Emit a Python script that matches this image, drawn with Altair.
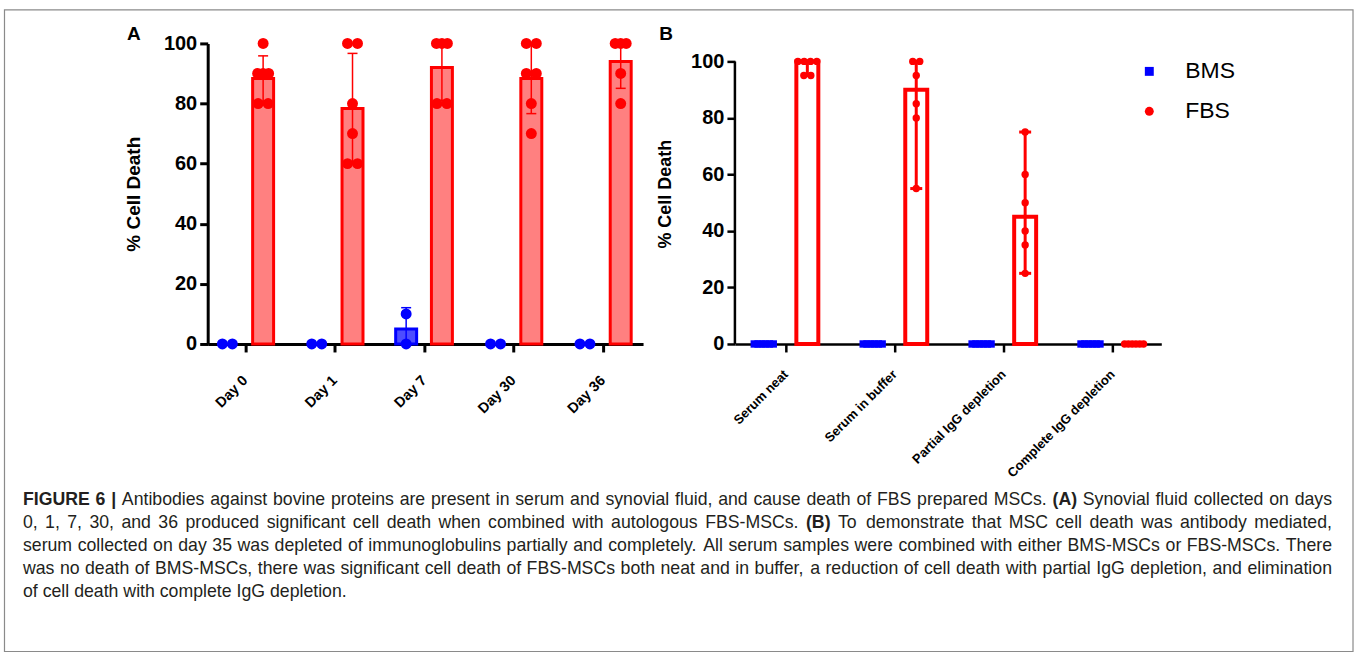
import json
import altair as alt
import pandas as pd

# ---------------- data ----------------
days = ["Day 0", "Day 1", "Day 7", "Day 30", "Day 36"]
conditions = ["Serum neat", "Serum in buffer", "Partial IgG depletion", "Complete IgG depletion"]
series_names = ["BMS", "FBS"]
series_colors = ["#0000ff", "#ff0000"]

# panel A: % cell death per replicate (synovial fluid by day)
a_bms = [[0, 0], [0, 0], [10, 0], [0, 0], [0, 0]]
a_fbs = [
    [100, 90, 90, 90, 80, 80],
    [100, 100, 80, 70, 60, 60],
    [100, 100, 100, 80, 80],
    [100, 100, 90, 90, 80, 70],
    [100, 100, 100, 90, 80],
]
# panel B: % cell death per replicate (serum treatments)
b_bms = [[0, 0, 0, 0, 0, 0], [0, 0, 0, 0, 0, 0], [0, 0, 0, 0, 0, 0], [0, 0, 0, 0, 0, 0]]
b_fbs = [
    [100, 100, 100, 100, 95, 95],
    [100, 100, 95, 85, 80, 55],
    [75, 60, 50, 40, 35, 25],
    [0, 0, 0, 0, 0, 0],
]
y_ticks = [0, 20, 40, 60, 80, 100]
y_title = "% Cell Death"

caption_lines = [
    "FIGURE 6 | Antibodies against bovine proteins are present in serum and synovial fluid, and cause death of FBS prepared MSCs. (A) Synovial fluid collected on days",
    "0, 1, 7, 30, and 36 produced significant cell death when combined with autologous FBS-MSCs. (B) To demonstrate that MSC cell death was antibody mediated,",
    "serum collected on day 35 was depleted of immunoglobulins partially and completely. All serum samples were combined with either BMS-MSCs or FBS-MSCs. There",
    "was no death of BMS-MSCs, there was significant cell death of FBS-MSCs both neat and in buffer, a reduction of cell death with partial IgG depletion, and elimination",
    "of cell death with complete IgG depletion.",
]
bold_words = {"FIGURE", "6", "|", "(A)", "(B)"}

# ---------------- layout / style ----------------
FONT = "Liberation Sans"
A_ORIGIN = (207, 42)
B_ORIGIN = (735, 42)
A_W, B_W, PH = 436, 427, 301
A_XDOM = [-0.42, 4.45]
B_XDOM = [-0.465, 3.45]
B_YMAX = 100 * PH / 283.0

color_scale = alt.Scale(domain=series_names, range=series_colors)


def long_table(groups, bms, fbs):
    rows = []
    for gi, name in enumerate(groups):
        for s, vals in zip(series_names, (bms[gi], fbs[gi])):
            for v in vals:
                rows.append({"g": gi, "group": name, "series": s, "value": v})
    return pd.DataFrame(rows)


def build_panel(df, groups, width, xdom, ymax, stat, errkind, fill_range, bar_sw,
                bar_px, err_sw, cap_px, pt_size, shapes, dot_max, dot_span,
                xlab_size, xlab_pad, ylab_size, ytitle_size, title_pad, axis_w, manual_domain):
    ppu = width / (xdom[1] - xdom[0])
    xs = alt.Scale(domain=xdom, nice=False, zero=False)
    ys = alt.Scale(domain=[0, ymax], nice=False, zero=False)
    label_expr = json.dumps(groups) + "[datum.value]"
    xaxis = alt.Axis(values=list(range(len(groups))), labelExpr=label_expr, labelAngle=-45,
                     labelAlign="right", labelBaseline="middle", labelFont=FONT,
                     labelFontWeight="bold", labelFontSize=xlab_size, labelColor="black",
                     labelPadding=xlab_pad, labelOverlap=False, labelFlush=False, labelBound=False,
                     tickSize=8, tickWidth=axis_w, tickColor="black",
                     domainColor="black", domainWidth=axis_w, grid=False, title=None)
    yaxis = alt.Axis(values=y_ticks, labelFont=FONT, labelFontWeight="bold",
                     labelFontSize=ylab_size, labelColor="black", labelPadding=3,
                     tickSize=8, tickWidth=axis_w, tickColor="black",
                     domain=not manual_domain, domainColor="black", domainWidth=axis_w,
                     grid=False, title=y_title, titleFont=FONT, titleFontWeight="bold",
                     titleFontSize=ytitle_size, titleColor="black", titlePadding=title_pad,
                     labelFlush=False)
    pos_expr = "datum.g + (datum.series == 'BMS' ? -0.2 : 0.2)"
    base = alt.Chart(df)
    fill_scale = alt.Scale(domain=series_names, range=fill_range)

    bar_half = bar_px / 2.0 / ppu
    bars = base.transform_aggregate(
        center=f"{stat}(value)", groupby=["g", "series"]
    ).transform_filter("datum.center > 0").transform_calculate(
        pos=pos_expr, xa=f"datum.pos - {bar_half}", xb=f"datum.pos + {bar_half}"
    ).mark_bar(strokeWidth=bar_sw).encode(
        x=alt.X("xa:Q", scale=xs, axis=xaxis), x2="xb:Q",
        y=alt.Y("center:Q", scale=ys, axis=yaxis), y2=alt.datum(0),
        fill=alt.Fill("series:N", scale=fill_scale, legend=None),
        stroke=alt.Stroke("series:N", scale=color_scale, legend=None),
    )

    if errkind == "sd":
        err = base.transform_aggregate(
            m="mean(value)", sd="stdev(value)", groupby=["g", "series"]
        ).transform_calculate(lo="datum.m - datum.sd", hi="datum.m + datum.sd")
    else:
        err = base.transform_aggregate(
            lo="min(value)", hi="max(value)", groupby=["g", "series"]
        )
    err = err.transform_filter("datum.hi > datum.lo").transform_calculate(pos=pos_expr)
    rule = err.mark_rule(strokeWidth=err_sw, clip=True).encode(
        x=alt.X("pos:Q", scale=xs, axis=xaxis),
        y=alt.Y("lo:Q", scale=ys, axis=yaxis), y2="hi:Q",
        stroke=alt.Stroke("series:N", scale=color_scale, legend=None),
    )
    cap_half = cap_px / 2.0 / ppu
    caps = err.transform_fold(["lo", "hi"], as_=["k", "cy"]).transform_filter(
        f"datum.cy >= 0 && datum.cy <= {ymax}"
    ).transform_calculate(
        ca=f"datum.pos - {cap_half}", cb=f"datum.pos + {cap_half}"
    ).mark_rule(strokeWidth=err_sw).encode(
        x=alt.X("ca:Q", scale=xs, axis=xaxis), x2="cb:Q",
        y=alt.Y("cy:Q", scale=ys, axis=yaxis),
        stroke=alt.Stroke("series:N", scale=color_scale, legend=None),
    )

    pts = base.transform_window(
        rank="row_number()", groupby=["g", "series", "value"]
    ).transform_joinaggregate(
        n="count()", groupby=["g", "series", "value"]
    ).transform_calculate(
        pos=pos_expr,
        sp=f"datum.n > 1 ? min({dot_max}, {dot_span} / (datum.n - 1)) : 0",
        px=f"datum.pos + (datum.rank - (datum.n + 1) / 2) * datum.sp / {ppu}",
    ).mark_point(filled=True, size=pt_size, opacity=1, strokeWidth=0).encode(
        x=alt.X("px:Q", scale=xs, axis=xaxis),
        y=alt.Y("value:Q", scale=ys, axis=yaxis),
        color=alt.Color("series:N", scale=color_scale, legend=None),
        shape=alt.Shape("series:N", scale=alt.Scale(domain=series_names, range=shapes), legend=None),
    )
    layers = [bars, rule, caps, pts]
    if manual_domain:
        dom = alt.Chart(pd.DataFrame({"d": [0]})).mark_rule(
            color="black", strokeWidth=axis_w).encode(
            x=alt.value(0), y=alt.Y("d:Q", scale=ys, axis=yaxis), y2=alt.datum(100))
        layers.insert(0, dom)
    return alt.layer(*layers).properties(width=width, height=PH)


# ---------------- caption word layout (Helvetica / Arial metrics) ----------------
REG = {' ': 278, '!': 278, '(': 333, ')': 333, ',': 278, '-': 333, '.': 278, '|': 260,
       '0': 556, '1': 556, '2': 556, '3': 556, '4': 556, '5': 556, '6': 556, '7': 556, '8': 556, '9': 556,
       'A': 667, 'B': 667, 'C': 722, 'D': 722, 'E': 667, 'F': 611, 'G': 778, 'H': 722, 'I': 278,
       'J': 500, 'K': 667, 'L': 556, 'M': 833, 'N': 722, 'O': 778, 'P': 667, 'Q': 778, 'R': 722,
       'S': 667, 'T': 611, 'U': 722, 'V': 667, 'W': 944, 'X': 667, 'Y': 667, 'Z': 611,
       'a': 556, 'b': 556, 'c': 500, 'd': 556, 'e': 556, 'f': 278, 'g': 556, 'h': 556, 'i': 222,
       'j': 222, 'k': 500, 'l': 222, 'm': 833, 'n': 556, 'o': 556, 'p': 556, 'q': 556, 'r': 333,
       's': 500, 't': 278, 'u': 556, 'v': 500, 'w': 722, 'x': 500, 'y': 500, 'z': 500}
BOLD = {'F': 611, 'I': 278, 'G': 778, 'U': 722, 'R': 722, 'E': 667, '6': 556, '|': 280,
        '(': 333, ')': 333, 'A': 722, 'B': 722}


def word_em(w, bold):
    t = BOLD if bold else REG
    return sum(t.get(c, REG.get(c, 556)) for c in w) / 1000.0


CAP_LEFT, CAP_RIGHT, CAP_Y0, CAP_DY = 22, 1333, 499, 23
target = CAP_RIGHT - CAP_LEFT
naturals = []
for line in caption_lines:
    ws = line.split(" ")
    naturals.append(sum(word_em(w, w in bold_words) for w in ws) + 0.278 * (len(ws) - 1))
cap_fs = 0.99 * target / max(naturals[:4])

word_rows = []
for li, line in enumerate(caption_lines):
    ws = line.split(" ")
    extra = 0.0
    if li < len(caption_lines) - 1 and len(ws) > 1:
        extra = (target - naturals[li] * cap_fs) / (len(ws) - 1)
    x = CAP_LEFT
    for w in ws:
        b = w in bold_words
        word_rows.append({"t": w, "b": b, "x": x - A_ORIGIN[0],
                          "y": CAP_Y0 + li * CAP_DY - A_ORIGIN[1]})
        x += word_em(w, b) * cap_fs + 0.278 * cap_fs + extra
words = pd.DataFrame(word_rows)

cap_reg = alt.Chart(words).transform_filter("!datum.b").mark_text(
    font=FONT, fontSize=cap_fs, align="left", baseline="middle", color="#231f20").encode(
    x=alt.X("x:Q", scale=None), y=alt.Y("y:Q", scale=None), text="t:N")
cap_bold = alt.Chart(words).transform_filter("datum.b").mark_text(
    font=FONT, fontSize=cap_fs, fontWeight="bold", align="left", baseline="middle",
    color="#231f20").encode(
    x=alt.X("x:Q", scale=None), y=alt.Y("y:Q", scale=None), text="t:N")

one = pd.DataFrame({"k": [0]})
border = alt.Chart(one).mark_rect(filled=False, stroke="#8a8a8a", strokeWidth=1.2).encode(
    x=alt.value(3.5 - A_ORIGIN[0]), x2=alt.value(1354 - A_ORIGIN[0]),
    y=alt.value(8.5 - A_ORIGIN[1]), y2=alt.value(651 - A_ORIGIN[1]))
letter_a = alt.Chart(pd.DataFrame({"t": ["A"]})).mark_text(
    font=FONT, fontSize=19, fontWeight="bold", color="black", align="center",
    baseline="middle").encode(text="t:N", x=alt.value(133 - A_ORIGIN[0]), y=alt.value(33 - A_ORIGIN[1]))
letter_b = alt.Chart(pd.DataFrame({"t": ["B"]})).mark_text(
    font=FONT, fontSize=19, fontWeight="bold", color="black", align="center",
    baseline="middle").encode(text="t:N", x=alt.value(666 - B_ORIGIN[0]), y=alt.value(33 - B_ORIGIN[1]))

leg = pd.DataFrame({"series": series_names, "i": list(range(len(series_names)))})
leg_sym = alt.Chart(leg).transform_calculate(
    ly=f"{70 - B_ORIGIN[1]} + datum.i * 40", lx=f"{1150 - B_ORIGIN[0]}").mark_point(
    filled=True, size=80, opacity=1, strokeWidth=0).encode(
    x=alt.X("lx:Q", scale=None), y=alt.Y("ly:Q", scale=None),
    color=alt.Color("series:N", scale=color_scale, legend=None),
    shape=alt.Shape("series:N", scale=alt.Scale(domain=series_names, range=["square", "circle"]), legend=None))
leg_txt = alt.Chart(leg).transform_calculate(
    ly=f"{70 - B_ORIGIN[1]} + datum.i * 40", lx=f"{1186 - B_ORIGIN[0]}").mark_text(
    font=FONT, fontSize=23, align="left", baseline="middle", color="black").encode(
    x=alt.X("lx:Q", scale=None), y=alt.Y("ly:Q", scale=None), text="series:N")

# ---------------- panels ----------------
dfa = long_table(days, a_bms, a_fbs)
dfb = long_table(conditions, b_bms, b_fbs)

panel_a = build_panel(dfa, days, A_W, A_XDOM, 100, "mean", "sd", ["#4d4dff", "#ff8080"], 3,
                      21, 1.5, 10, 120, ["circle", "circle"], 10, 11, 14.5, 26, 20, 19, 20, 3, False)
panel_b = build_panel(dfb, conditions, B_W, B_XDOM, B_YMAX, "median", "range", ["#ffffff", "#ffffff"], 4,
                      22, 3, 12, 55, ["square", "circle"], 7, 19, 13, 20, 20, 18, 16, 2.5, True)

A = alt.layer(panel_a, alt.layer(cap_reg, cap_bold, border, letter_a)).resolve_scale(
    x="independent", y="independent")
B = alt.layer(panel_b, alt.layer(letter_b, leg_sym, leg_txt)).resolve_scale(
    x="independent", y="independent", color="independent", shape="independent")

chart = alt.hconcat(A, B, spacing=B_ORIGIN[0] - A_ORIGIN[0] - A_W, bounds="flush").resolve_scale(
    fill="independent", stroke="independent", color="independent", shape="independent"
).properties(
    padding={"left": 3, "top": 8, "right": 3, "bottom": 1}, background="white"
).configure_view(stroke=None)

chart.save("out.html", embed_options={"renderer": "svg", "actions": False})
